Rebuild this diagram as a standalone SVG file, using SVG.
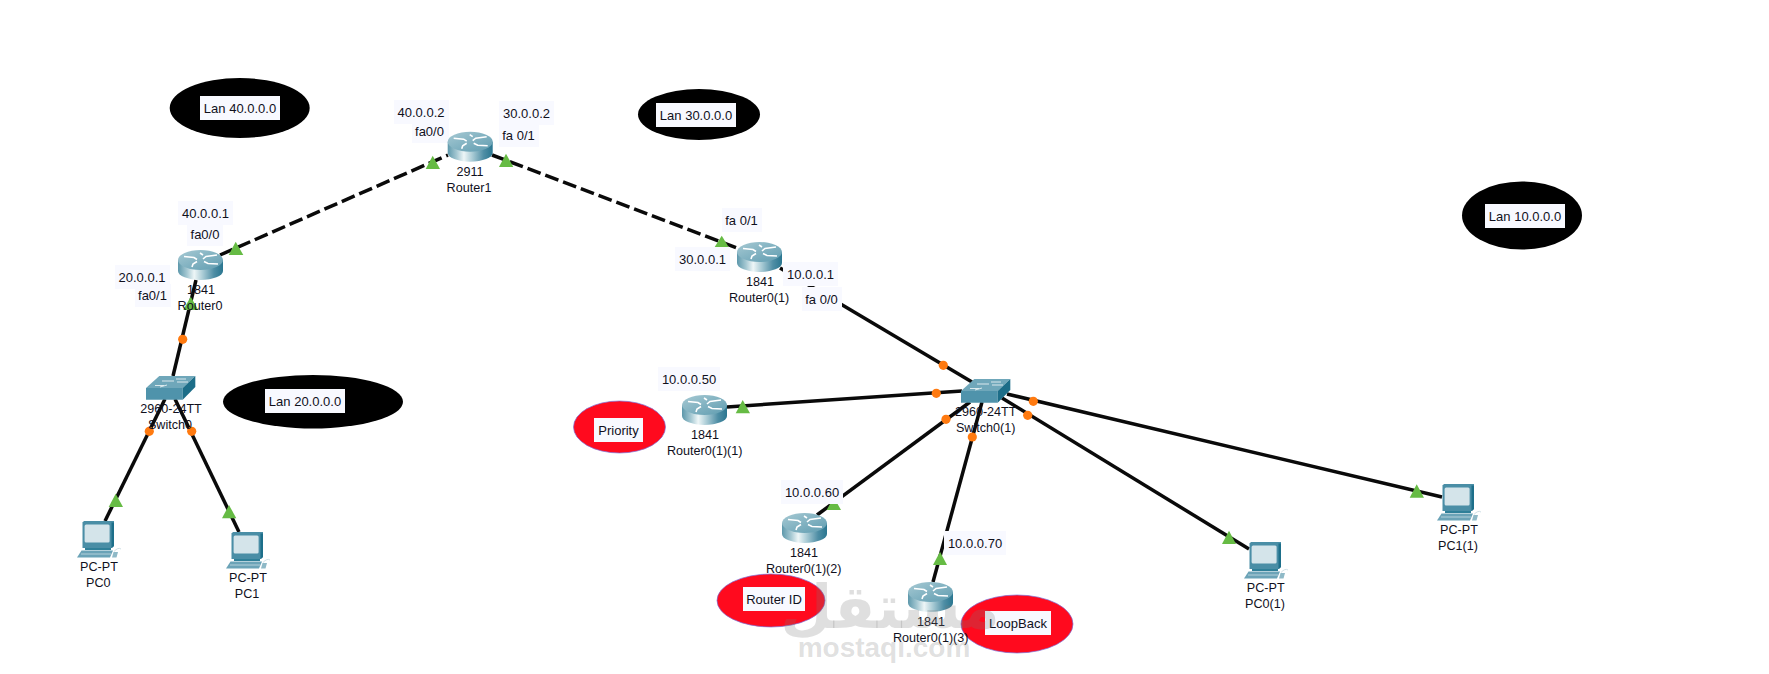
<svg xmlns="http://www.w3.org/2000/svg" xmlns:xlink="http://www.w3.org/1999/xlink" width="1769" height="674" viewBox="0 0 1769 674">
<style>
text{font-family:"Liberation Sans",Arial,sans-serif;fill:#10101c;text-anchor:middle}
.t{font-size:13px}
.d{font-size:12.6px}
.box{fill:#f8f9ff}
.lan{fill:#000}
.note{fill:#ff0a1e;stroke:#7a70d8;stroke-width:.7}
.link{stroke:#0a0a0a;stroke-width:3.5;fill:none}
.dash{stroke-dasharray:14 5}
.o{fill:#ff7a10}
.g{fill:#66bb44}
.wm{fill:#7a7a7a;fill-opacity:.24;font-weight:bold}
</style>
<defs>
<linearGradient id="rg" x1="0" x2="1" y1="0" y2="0">
<stop offset="0" stop-color="#5d98ab"/><stop offset=".2" stop-color="#a5c8d2"/><stop offset=".36" stop-color="#eef6f7"/><stop offset=".55" stop-color="#a9cbd5"/><stop offset=".8" stop-color="#4f8ea5"/><stop offset="1" stop-color="#2a7690"/>
</linearGradient>
<linearGradient id="rt" x1="0" x2="1" y1="0" y2="1">
<stop offset="0" stop-color="#a6c9d3"/><stop offset="1" stop-color="#5f9cb0"/>
</linearGradient>
<g id="router">
<path d="M0 10V21A22.5 9 0 0 0 45 21V10Z" fill="url(#rg)"/>
<ellipse cx="22.5" cy="10" rx="22.5" ry="10" fill="url(#rt)"/>
<g fill="none" stroke="#fff" stroke-width="1.6">
<path d="M6 6.5L16 7.5L19 9.5"/><path d="M39 5L28 6.5L25 9"/><path d="M26 11.5L30 13.5L40 14"/><path d="M19 11.5L15 14L14 17"/><path d="M22 3L25 5"/>
</g>
</g>
<g id="switch">
<path d="M0 12L13.3 0H49.3L36.7 12Z" fill="#6fa7ba"/>
<path d="M0 12H36.7V23.7H0Z" fill="#4f93ab"/>
<path d="M36.7 12L49.3 0V11L36.7 23.7Z" fill="#1c6d88"/>
<path d="M14 11L21 9M16 5H28M30 3H40M31 6H42M9 9.5H18" stroke="#e6f0f3" stroke-width=".9" fill="none"/>
</g>
<g id="pc">
<path d="M5.5 1.5L7 0H37V25L35 27H5.5Z" fill="#4a8ea6"/>
<path d="M34.5 1.5H37V25L34.5 27Z" fill="#1d6f8a"/>
<rect x="7.6" y="3.4" width="25" height="18" rx="1.5" fill="#d4e4ea"/>
<path d="M8 27H34V29H8Z" fill="#2f7f98"/>
<path d="M4.5 29.5H36L33 36.5H0Z" fill="#6ba3b7"/>
<path d="M4 33H34" stroke="#d4e4ea" stroke-width=".7"/>
<path d="M37 30.5Q41 26 44 28" stroke="#cfdfe5" stroke-width="1" fill="none"/>
<path d="M36.5 31H41L39.5 36.5H35Z" fill="#8fb9c7"/>
</g>
<circle id="dot" r="4.6" class="o"/>
</defs>
<rect width="1769" height="674" fill="#fff"/>

<g id="lan40"><ellipse class="lan" cx="239.7" cy="108" rx="70" ry="30"/><rect class="box" x="200" y="96" width="80" height="24"/><text class="t" x="240" y="112.5">Lan 40.0.0.0</text></g>
<g id="lan30"><ellipse class="lan" cx="699" cy="114.5" rx="61" ry="25.5"/><rect class="box" x="656" y="103" width="80" height="24"/><text class="t" x="696" y="119.5">Lan 30.0.0.0</text></g>
<g id="lan20"><ellipse class="lan" cx="313" cy="401.7" rx="90" ry="26.7"/><rect class="box" x="265" y="389" width="80" height="24"/><text class="t" x="305" y="405.5">Lan 20.0.0.0</text></g>
<g id="lan10"><ellipse class="lan" cx="1522" cy="215.5" rx="60" ry="34"/><rect class="box" x="1485" y="204" width="80" height="24"/><text class="t" x="1525" y="220.5">Lan 10.0.0.0</text></g>
<g id="note-priority"><ellipse class="note" cx="619.5" cy="427" rx="46" ry="26"/><rect class="box" x="594" y="418" width="49" height="24"/><text class="t" x="618.5" y="434.5">Priority</text></g>
<g id="note-routerid"><ellipse class="note" cx="771" cy="600.5" rx="54" ry="26.5"/><rect class="box" x="743" y="587" width="62" height="24"/><text class="t" x="774" y="603.5">Router ID</text></g>
<g id="note-loopback"><ellipse class="note" cx="1017" cy="624" rx="56" ry="29"/><rect class="box" x="985" y="611" width="66" height="24"/><text class="t" x="1018" y="627.5">LoopBack</text></g>

<g id="connectors">
<line class="link dash" x1="220" y1="255" x2="448" y2="155"/>
<line class="link dash" x1="492" y1="155" x2="737" y2="248"/>
<line class="link" x1="196" y1="280" x2="173" y2="376"/>
<line class="link" x1="165" y1="399" x2="105" y2="521"/>
<line class="link" x1="175" y1="399" x2="239" y2="532"/>
<line class="link" x1="780" y1="268" x2="972" y2="382"/>
<line class="link" x1="727" y1="407" x2="962" y2="391"/>
<line class="link" x1="817" y1="515" x2="970" y2="402"/>
<line class="link" x1="933" y1="582" x2="982" y2="402"/>
<line class="link" x1="1002" y1="398" x2="1249" y2="549"/>
<line class="link" x1="1007" y1="394" x2="1442" y2="497"/>
</g>

<g id="link-lights">
<use xlink:href="#dot" href="#dot" x="182.7" y="339.3"/>
<use xlink:href="#dot" href="#dot" x="149.3" y="431.3"/>
<use xlink:href="#dot" href="#dot" x="191.7" y="431.3"/>
<use xlink:href="#dot" href="#dot" x="943.3" y="365.3"/>
<use xlink:href="#dot" href="#dot" x="936.3" y="393.3"/>
<use xlink:href="#dot" href="#dot" x="946" y="419.3"/>
<use xlink:href="#dot" href="#dot" x="972.3" y="437"/>
<use xlink:href="#dot" href="#dot" x="1027.7" y="415.3"/>
<use xlink:href="#dot" href="#dot" x="1033.3" y="401.3"/>
<polygon class="g" points="432.7,155.7 425.7,169 440,169"/>
<polygon class="g" points="506,153.7 499,167 513.3,167"/>
<polygon class="g" points="235.7,241.7 228.7,255 243.3,255"/>
<polygon class="g" points="190.7,296.7 183.3,310 198.3,310"/>
<polygon class="g" points="115.7,493.7 108.7,507 123,507"/>
<polygon class="g" points="229,505 222,518.3 236.3,518.3"/>
<polygon class="g" points="721.7,235.7 714.7,247 728.7,247"/>
<polygon class="g" points="742.7,400 735.7,413.3 750,413.3"/>
<polygon class="g" points="833.7,497 826.7,510 841,510"/>
<polygon class="g" points="940,551.7 933,565 947,565"/>
<polygon class="g" points="1229,530.7 1222,544 1236,544"/>
<polygon class="g" points="1416.7,484.3 1409.7,497.7 1424,497.7"/>
</g>

<g id="port-labels">
<rect class="box" x="394" y="100" width="55" height="24"/><text class="t" x="421" y="116.5">40.0.0.2</text>
<rect class="box" x="412" y="124" width="37" height="19"/><text class="t" x="429.5" y="136">fa0/0</text>
<rect class="box" x="499" y="101" width="55" height="24"/><text class="t" x="526.5" y="117.5">30.0.0.2</text>
<rect class="box" x="499" y="125" width="40" height="22"/><text class="t" x="518.5" y="140">fa 0/1</text>
<rect class="box" x="178" y="201" width="55" height="24"/><text class="t" x="205.5" y="217.5">40.0.0.1</text>
<rect class="box" x="187" y="225" width="36" height="21"/><text class="t" x="205" y="238.5">fa0/0</text>
<rect class="box" x="115" y="265" width="55" height="24"/><text class="t" x="142" y="281.5">20.0.0.1</text>
<rect class="box" x="135" y="284" width="36" height="23"/><text class="t" x="152.5" y="300">fa0/1</text>
<rect class="box" x="722" y="208" width="40" height="24"/><text class="t" x="741.5" y="225">fa 0/1</text>
<rect class="box" x="675" y="247" width="55" height="24"/><text class="t" x="702.5" y="263.5">30.0.0.1</text>
<rect class="box" x="783" y="262" width="55" height="24"/><text class="t" x="810.5" y="278.5">10.0.0.1</text>
<rect class="box" x="802" y="287" width="40" height="24"/><text class="t" x="821.5" y="303.5">fa 0/0</text>
<rect class="box" x="658" y="367" width="62" height="24"/><text class="t" x="689" y="383.5">10.0.0.50</text>
<rect class="box" x="781" y="480" width="62" height="24"/><text class="t" x="812" y="496.5">10.0.0.60</text>
<rect class="box" x="944" y="531" width="62" height="24"/><text class="t" x="975" y="547.5">10.0.0.70</text>
</g>

<g id="router1"><use xlink:href="#router" href="#router" x="447.7" y="131.7"/><text class="d" x="470" y="176">2911</text><text class="d" x="469" y="192">Router1</text></g>
<g id="router0"><use xlink:href="#router" href="#router" x="178" y="250"/><text class="d" x="201" y="294">1841</text><text class="d" x="200" y="310">Router0</text></g>
<g id="router0-1"><use xlink:href="#router" href="#router" x="737" y="242"/><text class="d" x="760" y="286">1841</text><text class="d" x="759" y="302">Router0(1)</text></g>
<g id="router0-1-1"><use xlink:href="#router" href="#router" x="682" y="395"/><text class="d" x="705" y="439">1841</text><text class="d" x="704.7" y="455">Router0(1)(1)</text></g>
<g id="router0-1-2"><use xlink:href="#router" href="#router" x="782" y="513"/><text class="d" x="804" y="557">1841</text><text class="d" x="803.7" y="573">Router0(1)(2)</text></g>
<g id="router0-1-3"><use xlink:href="#router" href="#router" x="908" y="582"/><text class="d" x="931" y="626">1841</text><text class="d" x="930.7" y="642">Router0(1)(3)</text></g>
<g id="switch0"><use xlink:href="#switch" href="#switch" x="146" y="376"/><text class="d" x="171" y="413">2960-24TT</text><text class="d" x="170" y="429">Switch0</text></g>
<g id="switch0-1"><use xlink:href="#switch" href="#switch" x="961" y="379"/><text class="d" x="985.7" y="416">2960-24TT</text><text class="d" x="985.7" y="432">Switch0(1)</text></g>
<g id="pc0"><use xlink:href="#pc" href="#pc" x="77" y="521"/><text class="d" x="99" y="571">PC-PT</text><text class="d" x="98.3" y="587">PC0</text></g>
<g id="pc1"><use xlink:href="#pc" href="#pc" x="226" y="532"/><text class="d" x="248" y="582">PC-PT</text><text class="d" x="247" y="598">PC1</text></g>
<g id="pc0-1"><use xlink:href="#pc" href="#pc" x="1244" y="542"/><text class="d" x="1265.7" y="592">PC-PT</text><text class="d" x="1265" y="608">PC0(1)</text></g>
<g id="pc1-1"><use xlink:href="#pc" href="#pc" x="1437" y="484"/><text class="d" x="1459" y="534">PC-PT</text><text class="d" x="1458" y="550">PC1(1)</text></g>

<g id="watermark">
<text class="wm" x="890" y="628" font-size="60" style="font-family:'DejaVu Sans','Noto Sans',sans-serif">مستقل</text>
<text class="wm" x="884" y="657" font-size="28">mostaqi.com</text>
</g>
</svg>
